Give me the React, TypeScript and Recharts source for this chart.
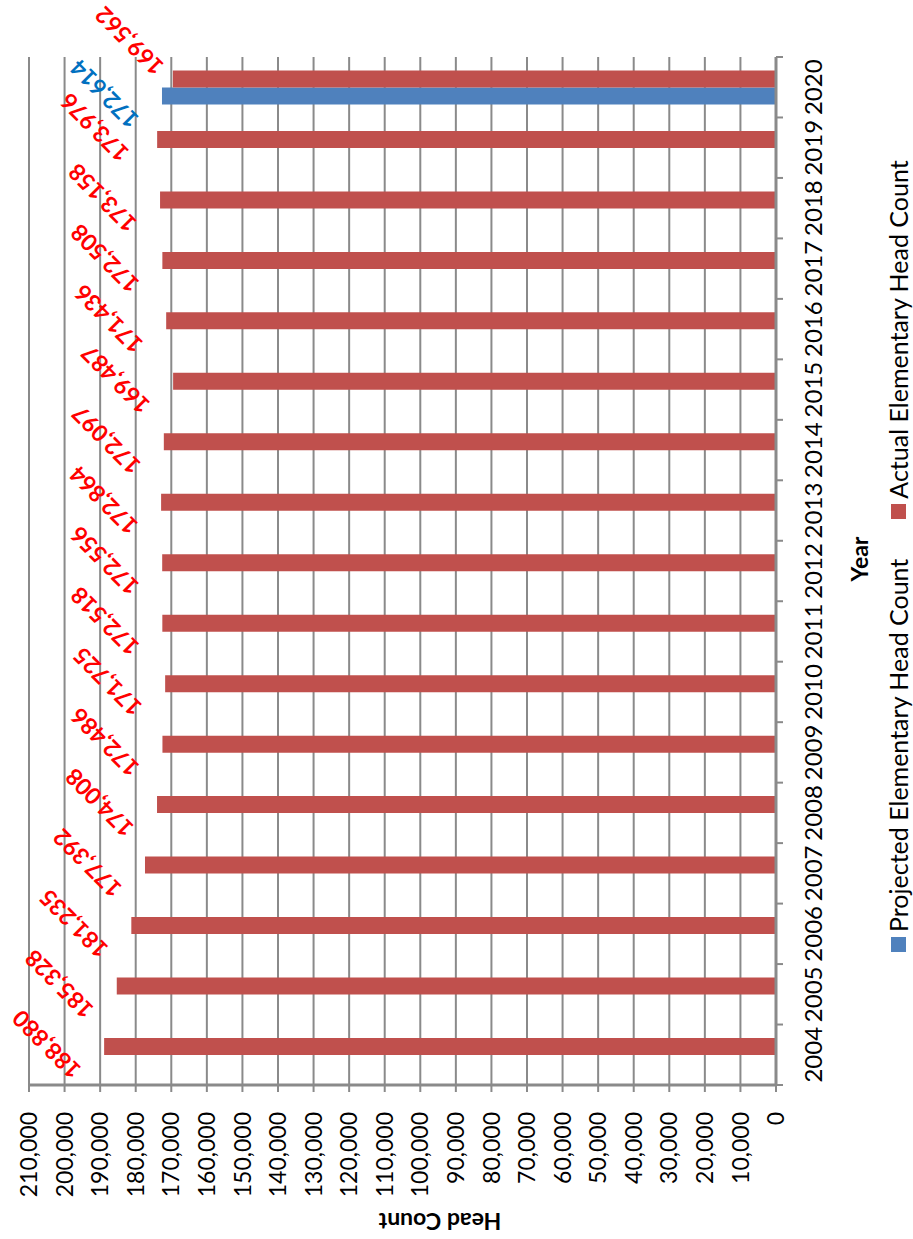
import React from 'react';
import { BarChart, Bar, XAxis, YAxis, CartesianGrid, Legend, LabelList, Label } from 'recharts';

// enrolment by year, the 2020 projection sits next to the actual count
const years = ['2004', '2005', '2006', '2007', '2008', '2009', '2010', '2011', '2012', '2013', '2014', '2015', '2016', '2017', '2018', '2019', '2020'];
const projected = [null, null, null, null, null, null, null, null, null, null, null, null, null, null, null, null, 172614];
const actual = [188880, 185328, 181235, 177392, 174008, 172486, 171725, 172518, 172556, 172864, 172097, 169487, 171436, 172508, 173158, 173976, 169562];
const valueTicks = [0, 10000, 20000, 30000, 40000, 50000, 60000, 70000, 80000, 90000, 100000, 110000, 120000, 130000, 140000, 150000, 160000, 170000, 180000, 190000, 200000, 210000];

const data = years.map((year, i) => ({ year, projected: projected[i], actual: actual[i] }));

const FONT = 'Lato, "DejaVu Sans", sans-serif';
const GRID = '#8a8a8a';
const RED = '#C0504D';
const BLUE = '#4F81BD';

// hand-moved labels at the top of the chart
const nudges: Record<string, Record<number, [number, number]>> = {
  actual: { 15: [10, -5], 16: [36, 14] },
  projected: { 16: [13, 13] },
};

const fmt = (v: number) => v.toLocaleString('en-US');

function makeLabel(key: string, color: string) {
  return (props: any) => {
    const { x, y, width, value, index } = props;
    if (value == null) return null;
    const n = nudges[key][index] || [0, 0];
    const cx = x + width / 2 + 1.5 + n[0];
    const cy = y - 58 + n[1];
    return (
      <text
        x={cx}
        y={cy}
        transform={`rotate(-45 ${cx} ${cy})`}
        textAnchor="middle"
        dominantBaseline="central"
        fill={color}
        fontFamily={FONT}
        fontWeight="bold"
        fontSize={23}
      >
        {fmt(value)}
      </text>
    );
  };
}

function YearTick(props: any) {
  const { x, y, payload, index, width } = props;
  const step = width / years.length;
  const left = x - step / 2;
  return (
    <g>
      <line x1={left} y1={y - 7} x2={left} y2={y} stroke={GRID} strokeWidth={2} />
      {index === years.length - 1 && (
        <line x1={x + step / 2} y1={y - 7} x2={x + step / 2} y2={y} stroke={GRID} strokeWidth={2} />
      )}
      <text x={x} y={y + 39} textAnchor="middle" fill="#000" fontFamily={FONT} fontSize={24}>
        {payload.value}
      </text>
    </g>
  );
}

function LegendBox() {
  const items = [
    { name: 'Projected Elementary Head Count', color: BLUE },
    { name: 'Actual Elementary Head Count', color: RED },
  ];
  return (
    <div style={{ display: 'flex', alignItems: 'center', fontFamily: FONT, fontSize: 25, lineHeight: '28px', color: '#000', whiteSpace: 'nowrap' }}>
      {items.map((it, i) => (
        <div key={it.name} style={{ display: 'flex', alignItems: 'center', marginRight: i === 0 ? 40 : 0 }}>
          <span style={{ display: 'inline-block', width: 15, height: 15, background: it.color, marginRight: 5 }} />
          <span>{it.name}</span>
        </div>
      ))}
    </div>
  );
}

export default function App() {
  return (
    <div style={{ position: 'absolute', left: 0, top: 0, width: 913, height: 1239, overflow: 'hidden', background: '#fff' }}>
      <div
        style={{
          position: 'absolute',
          left: 0,
          top: 0,
          width: 1239,
          height: 913,
          transformOrigin: '0 0',
          transform: 'translate(0px, 1239px) rotate(-90deg)',
        }}
      >
        <BarChart width={1239} height={913} data={data} margin={{ top: 29, right: 57, bottom: 67, left: 0 }} barGap={0}>
          <CartesianGrid vertical={false} stroke={GRID} strokeWidth={2} />
          <XAxis
            dataKey="year"
            height={70}
            tickLine={false}
            tickSize={7}
            tickMargin={0}
            axisLine={{ stroke: GRID, strokeWidth: 3 }}
            tick={<YearTick />}
            interval={0}
          >
            <Label
              content={() => (
                <text x={680} y={868} textAnchor="middle" fontFamily={FONT} fontWeight="bold" fontSize={23} fill="#000">
                  Year
                </text>
              )}
            />
          </XAxis>
          <YAxis
            width={154}
            domain={[0, 210000]}
            ticks={valueTicks}
            interval={0}
            tickFormatter={fmt}
            tick={{ fill: '#000', fontFamily: FONT, fontSize: 23 }}
            tickSize={7}
            tickMargin={20}
            tickLine={{ stroke: GRID, strokeWidth: 2 }}
            axisLine={{ stroke: GRID, strokeWidth: 3 }}
          >
            <Label
              content={() => (
                <text
                  x={26}
                  y={440}
                  transform="rotate(-90 26 440)"
                  textAnchor="middle"
                  fontFamily={FONT}
                  fontWeight="bold"
                  fontSize={23}
                  fill="#000"
                >
                  Head Count
                </text>
              )}
            />
          </YAxis>
          <Legend
            layout="horizontal"
            verticalAlign="middle"
            align="center"
            content={<LegendBox />}
            wrapperStyle={{ top: 884, left: 287, width: 'auto' }}
          />
          <Bar dataKey="projected" name="Projected Elementary Head Count" fill={BLUE} barSize={17} isAnimationActive={false}>
            <LabelList dataKey="projected" content={makeLabel('projected', '#0070C0')} />
          </Bar>
          <Bar dataKey="actual" name="Actual Elementary Head Count" fill={RED} barSize={17} isAnimationActive={false}>
            <LabelList dataKey="actual" content={makeLabel('actual', '#FF0000')} />
          </Bar>
        </BarChart>
      </div>
    </div>
  );
}
